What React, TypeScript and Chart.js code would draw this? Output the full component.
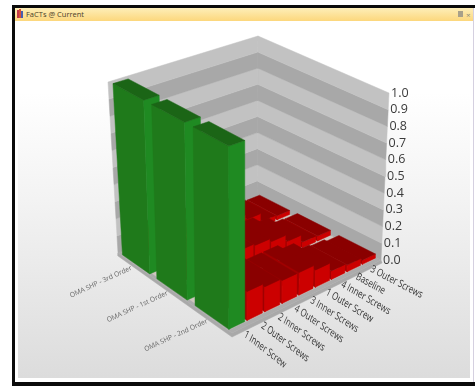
import React, { useEffect, useRef } from "react";
import { Chart, registerables } from "chart.js";

Chart.register(...registerables);

const rowLabels = ["OMA SHP - 3rd Order", "OMA SHP - 1st Order", "OMA SHP - 2nd Order"];
const columnLabels = [
  "1 Inner Screw", "2 Outer Screws", "2 Inner Screws", "4 Outer Screws", "3 Inner Screws",
  "1 Outer Screw", "4 Inner Screws", "Baseline", "3 Outer Screws",
];
const valueTicks = [0, 0.1, 0.2, 0.3, 0.4, 0.5, 0.6, 0.7, 0.8, 0.9, 1.0];

const thirdOrder = [1.0, 0.14, 0.14, 0.13, 0.13, 0.11, 0.08, 0.03, 0.025];
const firstOrder = [1.0, 0.16, 0.16, 0.15, 0.14, 0.12, 0.08, 0.035, 0.03];
const secondOrder = [1.0, 0.16, 0.14, 0.13, 0.13, 0.1, 0.05, 0.04, 0.025];

type Pt = { x: number; y: number };

// Perspective box: floor and ceiling corners of the plot volume, in view units.
const floorQuad: Pt[] = [{ x: 118, y: 253 }, { x: 232, y: 333 }, { x: 381, y: 260 }, { x: 257, y: 197 }];
const ceilQuad: Pt[] = [{ x: 108, y: 82 }, { x: 232, y: 149 }, { x: 389, y: 93 }, { x: 258, y: 36 }];

function quadMap(q: Pt[]) {
  const [p0, p1, p2, p3] = q;
  const dx1 = p1.x - p2.x, dx2 = p3.x - p2.x, sx = p0.x - p1.x + p2.x - p3.x;
  const dy1 = p1.y - p2.y, dy2 = p3.y - p2.y, sy = p0.y - p1.y + p2.y - p3.y;
  const det = dx1 * dy2 - dx2 * dy1;
  const g = (sx * dy2 - dx2 * sy) / det;
  const h = (dx1 * sy - sx * dy1) / det;
  const a = p1.x - p0.x + g * p1.x, b = p3.x - p0.x + h * p3.x;
  const d = p1.y - p0.y + g * p1.y, e = p3.y - p0.y + h * p3.y;
  return (u: number, v: number): Pt => {
    const w = g * u + h * v + 1;
    return { x: (a * u + b * v + p0.x) / w, y: (d * u + e * v + p0.y) / w };
  };
}

const onFloor = quadMap(floorQuad);
const onCeil = quadMap(ceilQuad);

// s runs along the row axis, c along the column axis, z is the value.
function project(s: number, c: number, z: number): Pt {
  const lo = onFloor(s, c), hi = onCeil(s, c);
  return { x: lo.x + (hi.x - lo.x) * z, y: lo.y + (hi.y - lo.y) * z };
}

function face(points: Pt[], color: string) {
  return {
    type: "scatter" as const,
    showLine: true,
    data: [...points, points[0]],
    fill: "shape",
    backgroundColor: color,
    borderColor: color,
    borderWidth: 0.5,
    pointRadius: 0,
    tension: 0,
    clip: false as const,
  };
}

function buildFaces() {
  const out: ReturnType<typeof face>[] = [];

  // base slab and floor; the pale inner floor shows through the gaps between blocks
  out.push(face([
    project(0, 0, 0), { x: 118, y: 256 }, { x: 232, y: 337 }, { x: 382, y: 263 }, project(1, 1, 0), project(1, 0, 0),
  ], "#a9a9a9"));
  out.push(face([project(0, 0, 0), project(1, 0, 0), project(1, 1, 0), project(0, 1, 0)], "#acacac"));
  out.push(face([project(0, 0.02, 0), project(0.97, 0.02, 0), project(0.97, 0.99, 0), project(0, 0.99, 0)], "#cfc6c0"));

  // banded rear walls
  for (let i = 0; i < valueTicks.length - 1; i++) {
    const color = i % 2 === 1 ? "#c2c2c2" : "#a8a8a8";
    const a = valueTicks[i], b = valueTicks[i + 1];
    out.push(face([project(0, 0, a), project(0, 1, a), project(0, 1, b), project(0, 0, b)], color));
    out.push(face([project(0, 1, a), project(1, 1, a), project(1, 1, b), project(0, 1, b)], color));
  }

  const rows = [thirdOrder, firstOrder, secondOrder];
  const rowCount = rows.length, colCount = columnLabels.length;
  const rowInset = 0.033, colInset = 0.008;

  // back to front, and from the far column toward the near one
  rows.forEach((values, r) => {
    for (let k = colCount - 1; k >= 0; k--) {
      const v = values[k];
      const s0 = r / rowCount + rowInset, s1 = (r + 1) / rowCount - rowInset;
      const c0 = k / colCount + colInset, c1 = (k + 1) / colCount - colInset;
      const green = k === 0;
      const top = green ? "#1b6516" : "#8a0000";
      const side = green ? "#1f7a1b" : "#a00000";
      const front = green ? "#1f8a22" : "#cc0000";
      // side facing the near-left, front facing the near-right, then the top
      out.push(face([project(s0, c0, 0), project(s1, c0, 0), project(s1, c0, v), project(s0, c0, v)], side));
      out.push(face([project(s1, c0, 0), project(s1, c1, 0), project(s1, c1, v), project(s1, c0, v)], front));
      out.push(face([project(s0, c0, v), project(s1, c0, v), project(s1, c1, v), project(s0, c1, v)], top));
    }
  });
  return out;
}

const axisText = {
  id: "axisText",
  afterDatasetsDraw(chart: Chart) {
    const { ctx, scales } = chart;
    const px = (p: Pt) => ({ x: scales.x.getPixelForValue(p.x), y: scales.y.getPixelForValue(p.y) });

    ctx.save();
    // value axis down the right-hand wall edge
    ctx.font = "12.5px 'Open Sans'";
    ctx.fillStyle = "#3a3a3a";
    ctx.textBaseline = "middle";
    ctx.textAlign = "left";
    valueTicks.forEach((t) => {
      const p = px(project(1, 1, t));
      ctx.fillText(t.toFixed(1), p.x + 2, p.y);
    });

    // column names lie on the floor, sheared along the row axis
    ctx.font = "10.5px 'Open Sans'";
    ctx.fillStyle = "#333333";
    columnLabels.forEach((label, i) => {
      const f = (i + 0.5) / columnLabels.length;
      const p = px(project(1, f, 0));
      const angle = ((39 - 12 * f) * Math.PI) / 180;
      ctx.save();
      ctx.transform(0.78 * Math.cos(angle), 0.78 * Math.sin(angle), -0.42, 0.9, p.x + 4 - 7 * f, p.y + 5);
      ctx.fillText(label, 0, 0);
      ctx.restore();
    });

    // row names sit in front of the left floor edge
    ctx.font = "6.8px 'Open Sans'";
    ctx.fillStyle = "#666666";
    ctx.textAlign = "right";
    rowLabels.forEach((label, i) => {
      const p = px(project((i + 0.5) / rowLabels.length, 0, 0));
      ctx.save();
      ctx.transform(0.91, -0.42, 0.4, 0.92, p.x - 3, p.y + 3);
      ctx.fillText(label, 0, 0);
      ctx.restore();
    });
    ctx.restore();
  },
};

export default function App() {
  const ref = useRef<HTMLCanvasElement>(null);

  useEffect(() => {
    document.body.style.margin = "0";
    const chart = new Chart(ref.current!, {
      type: "scatter",
      // Chart.js paints lower indexes last, so the painter's order is reversed here.
      data: { datasets: buildFaces().reverse() as any },
      options: {
        animation: false,
        responsive: false,
        events: [],
        layout: { padding: 0 },
        plugins: { legend: { display: false }, tooltip: { enabled: false }, title: { display: false } },
        scales: {
          x: { type: "linear", min: 0, max: 475, display: false },
          y: { type: "linear", min: 0, max: 386, reverse: true, display: false },
        },
      },
      plugins: [axisText],
    });
    return () => chart.destroy();
  }, []);

  return (
    <div style={{ position: "relative", width: 475, height: 386, overflow: "hidden", background: "#fff", fontFamily: "'Open Sans', sans-serif" }}>
      <div style={{ position: "absolute", left: 12, top: 5, width: 463, height: 3, background: "#0a0a0a" }} />
      <div style={{ position: "absolute", left: 12, top: 5, width: 3, height: 381, background: "#0a0a0a" }} />
      <div style={{ position: "absolute", left: 12, top: 382, width: 463, height: 4, background: "#0a0a0a" }} />
      <div style={{ position: "absolute", left: 15, top: 8, width: 458, height: 13, background: "linear-gradient(#fdeeb8, #fcd77c)" }} />
      <div style={{ position: "absolute", left: 17, top: 10, width: 2, height: 8, background: "#c33a4a" }} />
      <div style={{ position: "absolute", left: 19, top: 9, width: 2, height: 9, background: "#d9503a" }} />
      <div style={{ position: "absolute", left: 21, top: 11, width: 2, height: 7, background: "#4a5fb0" }} />
      <div style={{ position: "absolute", left: 26, top: 8, fontSize: 7.5, lineHeight: "13px", color: "#4a3f2a", whiteSpace: "nowrap" }}>FaCTs @ Current</div>
      <div style={{ position: "absolute", left: 466, top: 8, fontSize: 8, lineHeight: "13px", color: "#8a8a7a" }}>×</div>
      <div style={{ position: "absolute", left: 458, top: 11, width: 5, height: 6, background: "#a8a08a" }} />
      <div style={{ position: "absolute", left: 473, top: 8, width: 1, height: 374, background: "#d5d0e0" }} />
      <div style={{ position: "absolute", left: 18, top: 21, width: 452, height: 357, background: "linear-gradient(#ffffff 0%, #ffffff 20%, #f3f3f3 50%, #dcdcdc 100%)" }} />
      <canvas ref={ref} width={475} height={386} style={{ position: "absolute", left: 0, top: 0, display: "block" }} />
    </div>
  );
}
